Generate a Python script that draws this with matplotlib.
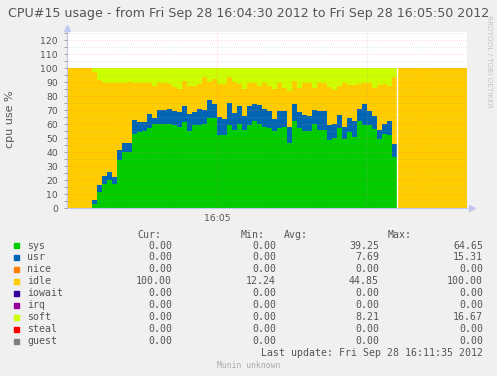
import numpy as np
import matplotlib
matplotlib.use('Agg')
from matplotlib import pyplot as plt
from matplotlib.patches import Rectangle

# one sample per second, first sample 5 s after 16:04:30
sys_v = [3.0, 11.5, 17.0, 20.0, 17.0, 34.5, 40.0, 40.0, 53.0, 54.0,
         55.0, 57.0, 60.0, 60.0, 60.0, 60.0, 59.0, 58.0, 61.5, 55.0,
         59.5, 59.5, 60.0, 64.0, 64.5, 52.5, 52.5, 59.0, 56.0, 60.0,
         56.0, 59.0, 62.0, 60.0, 58.0, 57.0, 55.0, 57.0, 58.0, 46.5,
         62.0, 57.0, 55.0, 55.0, 60.0, 56.0, 56.0, 48.5, 50.0, 57.0,
         49.0, 54.0, 50.5, 62.0, 59.5, 59.5, 56.5, 49.5, 53.0, 52.5,
         36.5]
usr_v = [3.0, 5.0, 6.0, 6.0, 5.5, 7.0, 6.5, 6.5, 10.0, 7.5,
         6.5, 10.0, 4.0, 10.0, 10.0, 11.0, 10.5, 10.5, 11.5, 12.0,
         9.0, 11.5, 10.0, 13.0, 10.0, 12.5, 11.0, 16.0, 12.0, 13.0,
         10.0, 14.0, 12.0, 13.5, 13.0, 12.0, 8.5, 12.0, 11.0, 11.5,
         12.5, 11.5, 11.5, 10.5, 10.0, 13.0, 13.0, 11.0, 10.0, 9.5,
         9.0, 10.0, 12.0, 9.0, 14.5, 9.5, 9.5, 6.5, 7.0, 9.5,
         9.5]
idle_v = [91.4, 74.9, 66.5, 63.5, 67.0, 47.5, 42.5, 43.7, 26.5, 28.0,
          27.5, 22.0, 23.1, 19.0, 19.0, 17.8, 16.9, 16.7, 17.5, 20.1,
          18.6, 17.8, 23.6, 13.0, 17.9, 23.8, 25.3, 18.6, 22.0, 15.8,
          19.2, 16.5, 15.5, 13.6, 18.5, 18.1, 21.7, 20.5, 16.7, 25.3,
          16.0, 17.2, 23.0, 24.0, 15.7, 20.5, 20.5, 26.9, 24.0, 20.6,
          31.5, 24.1, 25.6, 17.8, 15.5, 20.5, 19.7, 32.1, 28.8, 25.1,
          47.6]
soft_v = [2.6, 8.6, 10.5, 10.5, 10.5, 11.0, 11.0, 9.8, 10.5, 10.5,
          11.0, 11.0, 12.9, 11.0, 11.0, 11.2, 13.6, 14.8, 9.5, 12.9,
          12.9, 11.2, 6.4, 10.0, 7.6, 11.2, 11.2, 6.4, 10.0, 11.2,
          14.8, 10.5, 10.5, 12.9, 10.5, 12.9, 14.8, 10.5, 14.3, 16.7,
          9.5, 14.3, 10.5, 10.5, 14.3, 10.5, 10.5, 13.6, 16.0, 12.9,
          10.5, 11.9, 11.9, 11.2, 10.5, 10.5, 14.3, 11.9, 11.2, 12.9,
          6.4]

names = ['sys', 'usr', 'nice', 'idle', 'iowait', 'irq', 'soft', 'steal', 'guest']
colors = ['#00CC00', '#0066B3', '#FF8000', '#FFCC00', '#330099',
          '#990099', '#CCFF00', '#FF0000', '#808080']
cur = ['0.00', '0.00', '0.00', '100.00', '0.00', '0.00', '0.00', '0.00', '0.00']
mins = ['0.00', '0.00', '0.00', '12.24', '0.00', '0.00', '0.00', '0.00', '0.00']
avgs = ['39.25', '7.69', '0.00', '44.85', '0.00', '0.00', '8.21', '0.00', '0.00']
maxs = ['64.65', '15.31', '0.00', '100.00', '0.00', '0.00', '16.67', '0.00', '0.00']

first = 5      # seconds after 16:04:30
span = 80      # 16:04:30 .. 16:05:50
n = len(sys_v)

W, H = 497, 376
fig = plt.figure(figsize=(W / 100, H / 100), dpi=100, facecolor='#F0F0F0')


def fx(x):
    return x / W


def fy(y):
    return 1 - y / H


ymax = 126
ax = fig.add_axes([fx(67), fy(208), fx(467) - fx(67), (208 - 31.6) / H])
ax.set_facecolor('white')


def full(vals, fill=0.0):
    a = np.full(span, fill)
    a[first:first + n] = vals
    return np.append(a, a[-1])


t = np.arange(span + 1)
layers = [(full(sys_v), colors[0]),
          (full(usr_v), colors[1]),
          (full(idle_v, 100.0), colors[3]),
          (full(soft_v), colors[6])]
base = np.zeros(span + 1)
for vals, c in layers:
    ax.fill_between(t, base, base + vals, step='post', color=c, lw=0, zorder=1)
    base = base + vals
ax.axvline(first + n, color='white', lw=1, zorder=2)

ax.set_xlim(0, span)
ax.set_ylim(0, ymax)
ax.set_xticks([30])
ax.set_xticklabels(['16:05'])
ax.set_xticks([0, 60], minor=True)
ax.set_yticks(np.arange(0, 121, 10))
ax.set_yticks(np.arange(5, 126, 10), minor=True)
ax.set_axisbelow(False)
ax.grid(which='major', color='#FF7070', alpha=0.55, lw=0.5, linestyle=(0, (1, 2)), zorder=3)
ax.grid(which='minor', color='#A0A0A0', alpha=0.5, lw=0.5, linestyle=(0, (1, 2)), zorder=3)
ax.tick_params(axis='y', which='both', length=2.5, width=0.7, color='#A0A0A0',
               labelsize=6.7, labelcolor='#555555', pad=4)
ax.tick_params(axis='x', which='both', length=0, labelsize=6.7,
               labelcolor='#555555', pad=4)
for s in ['top', 'right']:
    ax.spines[s].set_visible(False)
for s in ['left', 'bottom']:
    ax.spines[s].set_color('#C0C8F0')
    ax.spines[s].set_linewidth(0.8)
ax.plot([0], [1 + 4 / 176], marker='^', ms=4, color='#C0C8F0',
        transform=ax.transAxes, clip_on=False)
ax.plot([1 + 5 / 400], [0], marker='>', ms=4, color='#C0C8F0',
        transform=ax.transAxes, clip_on=False)

fig.text(fx(248.5), fy(14), 'CPU#15 usage - from Fri Sep 28 16:04:30 2012 to Fri Sep 28 16:05:50 2012',
         ha='center', va='center', fontsize=9.1, color='#555555')
fig.text(fx(10.5), fy(119), 'cpu use %', rotation=90, ha='center', va='center',
         fontsize=8, color='#555555')
fig.text(fx(489.5), fy(61), 'RRDTOOL / TOBI OETIKER', rotation=270, ha='center',
         va='center', fontsize=5.2, color='#C4C4C4')

mono = dict(family='DejaVu Sans Mono', fontsize=7.1, color='#555555', va='center')
fig.text(fx(137), fy(234.5), 'Cur:', ha='left', **mono)
fig.text(fx(241), fy(234.5), 'Min:', ha='left', **mono)
fig.text(fx(284), fy(234.5), 'Avg:', ha='left', **mono)
fig.text(fx(388), fy(234.5), 'Max:', ha='left', **mono)
for i, name in enumerate(names):
    y = 245.5 + 12 * i
    fig.patches.append(Rectangle((fx(14), fy(y + 2.5)), 5 / W, 5 / H,
                                 transform=fig.transFigure, color=colors[i]))
    fig.text(fx(27), fy(y), name, ha='left', **mono)
    fig.text(fx(172), fy(y), cur[i], ha='right', **mono)
    fig.text(fx(276), fy(y), mins[i], ha='right', **mono)
    fig.text(fx(379), fy(y), avgs[i], ha='right', **mono)
    fig.text(fx(483), fy(y), maxs[i], ha='right', **mono)
fig.text(fx(483), fy(353.5), 'Last update: Fri Sep 28 16:11:35 2012', ha='right', **mono)
fig.text(fx(248.5), fy(365), 'Munin unknown', ha='center', va='center',
         family='DejaVu Sans Mono', fontsize=5.8, color='#AAAAAA')

fig.savefig('out.png', dpi=100, facecolor=fig.get_facecolor())
